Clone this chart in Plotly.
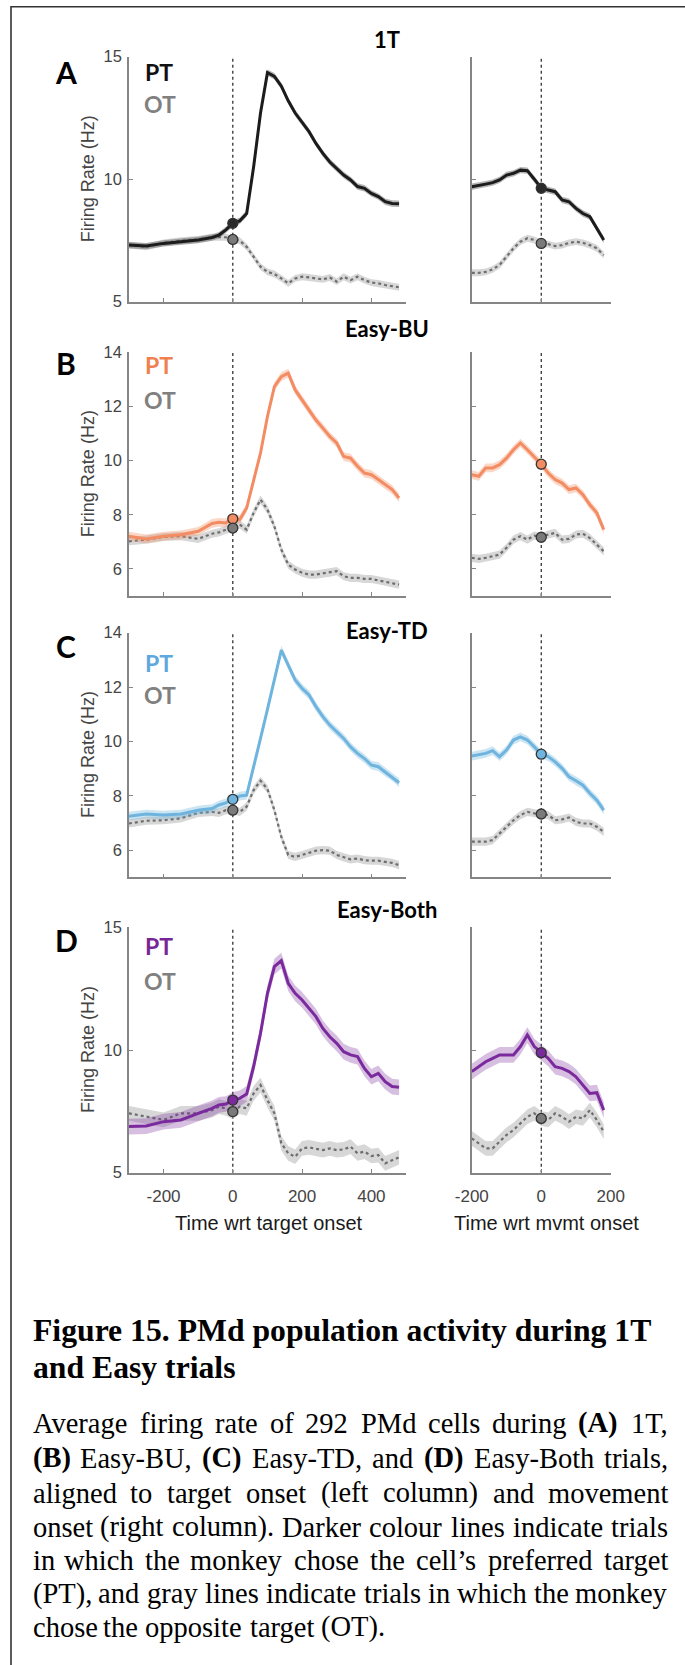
import plotly.graph_objects as go

# ---------------- data ----------------
t_left = [-300, -250, -200, -150, -100, -60, -40, -20, 0, 20, 40, 60, 80, 100, 120, 140, 160,
          180, 200, 220, 240, 260, 280, 300, 320, 340, 360, 380, 400, 420, 440, 460, 480]
t_right = [-200, -180, -160, -140, -120, -100, -80, -60, -40, -20, 0, 20, 40, 60, 80, 100,
           120, 140, 160, 180]

A_pt_left = [7.31, 7.27, 7.38, 7.45, 7.52, 7.62, 7.72, 7.93, 8.2, 8.3, 8.6, 10.5, 12.7, 14.35, 14.2,
             13.8, 13.2, 12.7, 12.3, 11.94, 11.46, 11.05, 10.7, 10.44, 10.17, 9.97, 9.7, 9.63, 9.42,
             9.29, 9.08, 9.01, 9.0]
A_ot_left = [7.31, 7.24, 7.4, 7.49, 7.54, 7.63, 7.63, 7.63, 7.54, 7.49, 7.24, 6.84, 6.43, 6.22, 6.13,
             5.95, 5.75, 5.95, 6.02, 5.99, 5.95, 5.91, 5.99, 5.82, 6.02, 5.88, 6.02, 5.88, 5.78, 5.75,
             5.68, 5.64, 5.59]
A_pt_right = [9.69, 9.76, 9.8, 9.86, 9.97, 10.17, 10.24, 10.37, 10.35, 10.0, 9.63, 9.56, 9.49, 9.15,
              9.08, 8.81, 8.6, 8.47, 8.0, 7.52]
A_ot_right = [6.18, 6.18, 6.22, 6.32, 6.5, 6.84, 7.18, 7.45, 7.59, 7.52, 7.38, 7.35, 7.27, 7.31, 7.4,
              7.45, 7.4, 7.31, 7.18, 6.9]

B_pt_left = [7.21, 7.11, 7.21, 7.26, 7.39, 7.68, 7.72, 7.7, 7.85, 7.82, 8.25, 9.3, 10.28, 11.63, 12.73,
             13.1, 13.23, 12.61, 12.24, 11.87, 11.5, 11.2, 10.89, 10.65, 10.15, 10.09, 9.79, 9.54, 9.48,
             9.3, 9.11, 8.93, 8.62]
B_ot_left = [7.02, 7.08, 7.18, 7.21, 7.11, 7.3, 7.35, 7.45, 7.51, 7.64, 7.45, 8.07, 8.56, 8.19, 7.57,
             6.71, 6.16, 5.98, 5.86, 5.79, 5.79, 5.83, 5.86, 5.92, 5.73, 5.67, 5.67, 5.63, 5.63, 5.58,
             5.54, 5.48, 5.42]
B_pt_right = [9.48, 9.42, 9.73, 9.73, 9.85, 10.09, 10.4, 10.65, 10.4, 10.15, 9.87, 9.54, 9.3, 9.17,
              8.93, 8.99, 8.74, 8.37, 8.07, 7.45]
B_ot_right = [6.41, 6.37, 6.41, 6.47, 6.53, 6.78, 7.08, 7.21, 7.08, 7.23, 7.17, 7.27, 7.33, 7.08, 7.11,
              7.27, 7.3, 7.14, 6.9, 6.65]

C_pt_left = [7.25, 7.33, 7.29, 7.33, 7.47, 7.53, 7.66, 7.74, 7.87, 7.99, 8.02, 9.03, 10.11, 11.18,
             12.26, 13.36, 12.81, 12.26, 11.95, 11.71, 11.28, 10.91, 10.6, 10.36, 10.11, 9.8, 9.56,
             9.37, 9.13, 9.07, 8.88, 8.7, 8.48]
C_ot_left = [6.98, 7.08, 7.1, 7.17, 7.37, 7.41, 7.37, 7.47, 7.47, 7.41, 7.6, 8.21, 8.55, 8.25, 7.47,
             6.49, 5.82, 5.75, 5.82, 5.9, 5.98, 6.0, 5.98, 5.82, 5.73, 5.66, 5.69, 5.63, 5.61, 5.61,
             5.57, 5.53, 5.45]
C_pt_right = [9.46, 9.5, 9.56, 9.66, 9.44, 9.68, 10.05, 10.17, 10.05, 9.8, 9.53, 9.44, 9.25, 9.01,
              8.7, 8.55, 8.39, 8.09, 7.84, 7.47]
C_ot_right = [6.31, 6.31, 6.31, 6.37, 6.61, 6.86, 7.1, 7.29, 7.41, 7.35, 7.33, 7.29, 7.1, 7.13, 7.2,
              7.04, 6.98, 6.98, 6.86, 6.67]

D_pt_left = [6.88, 6.9, 7.08, 7.15, 7.42, 7.62, 7.76, 7.8, 7.96, 8.03, 8.21, 9.32, 10.68, 12.31, 13.4,
             13.64, 12.72, 12.31, 12.04, 11.7, 11.36, 10.88, 10.54, 10.27, 9.93, 9.8, 9.73, 9.25,
             8.91, 9.05, 8.71, 8.51, 8.48]
D_ot_left = [7.42, 7.28, 7.15, 7.42, 7.42, 7.55, 7.69, 7.62, 7.49, 7.69, 7.62, 8.23, 8.57, 7.96, 7.42,
             6.2, 5.79, 5.65, 5.99, 6.03, 5.99, 5.92, 5.99, 5.92, 5.95, 6.06, 5.79, 5.86, 5.68, 5.72,
             5.38, 5.52, 5.63]
D_pt_right = [9.12, 9.32, 9.52, 9.66, 9.8, 9.8, 9.8, 10.14, 10.61, 10.14, 9.89, 9.66, 9.32, 9.25,
              9.12, 8.91, 8.57, 8.23, 8.26, 7.55]
D_ot_right = [6.4, 6.2, 5.99, 5.99, 6.26, 6.54, 6.74, 7.01, 7.28, 7.42, 7.21, 7.15, 7.42, 7.28, 7.08,
              7.28, 7.21, 7.55, 7.15, 6.67]

# half-width of shaded error bands (Hz) per panel: [PT, OT]
sem_A = [0.13, 0.14]
sem_B = [0.16, 0.15]
sem_C = [0.16, 0.15]
sem_D = [0.32, 0.30]

panel_letters = ["A", "B", "C", "D"]
panel_titles = ["1T", "Easy-BU", "Easy-TD", "Easy-Both"]
y_ranges = [[5, 15], [5, 14], [5, 14], [5, 15]]
y_ticks = [[5, 10, 15], [6, 8, 10, 12, 14], [6, 8, 10, 12, 14], [5, 10, 15]]
x_ticks_left = [-200, 0, 200, 400]
x_ticks_right = [-200, 0, 200]
x_ticklabels_left = ["-200", "0", "200", "400"]
x_ticklabels_right = ["-200", "0", "200"]
x_titles = ["Time wrt target onset", "Time wrt mvmt onset"]
y_title = "Firing Rate (Hz)"

caption_title = ["Figure 15. PMd population activity during 1T", "and Easy trials"]
caption_lines = [
    "Average firing rate of 292 PMd cells during **(A)** 1T,",
    "**(B)** Easy-BU, **(C)** Easy-TD, and **(D)** Easy-Both trials,",
    "aligned to target onset (left column) and movement",
    "onset (right column). Darker colour lines indicate trials",
    "in which the monkey chose the cell\u2019s preferred target",
    "(PT), and gray lines indicate trials in which the monkey",
    "chose the opposite target (OT).",
]

# ---------------- styling ----------------
W, H = 685, 1665
def px(x): return x / W
def py(y): return 1 - y / H

pt_line = ["#1c1c1c", "rgb(243,140,98)", "rgb(110,180,222)", "rgb(122,42,156)"]
pt_band = ["rgba(90,90,90,0.45)", "rgba(243,140,98,0.35)", "rgba(110,180,222,0.35)",
           "rgba(122,42,156,0.30)"]
pt_text = ["#111111", "rgb(240,128,80)", "rgb(95,168,222)", "rgb(120,38,150)"]
pt_marker = ["#2a2a2a", "rgb(243,140,98)", "rgb(110,180,222)", "rgb(122,42,156)"]
ot_line = "#6e6e6e"
ot_band = "rgba(175,175,175,0.5)"
ot_text = "#808080"
axis_col = "#858585"

# pixel geometry
x_left_dom = [px(128.9), px(406.0)]
x_right_dom = [px(471.8), px(610.7)]
panel_px = [(56.7, 301.7), (352.3, 596.0), (632.7, 877.3), (927.3, 1172.7)]
title_y = [39.3, 328.3, 630.7, 909.3]
letter_y = [71.7, 363.3, 645.7, 940.0]
pt_y = [71.5, 365.3, 663.3, 946.0]
ot_y = [104.0, 399.7, 695.3, 980.5]

series = [
    (A_pt_left, A_ot_left, A_pt_right, A_ot_right, sem_A),
    (B_pt_left, B_ot_left, B_pt_right, B_ot_right, sem_B),
    (C_pt_left, C_ot_left, C_pt_right, C_ot_right, sem_C),
    (D_pt_left, D_ot_left, D_pt_right, D_ot_right, sem_D),
]

fig = go.Figure()
layout = {}
shapes = []
annotations = []

def nm(n):
    return "" if n == 1 else str(n)

def band(t, v, s, color, xa, ya):
    xs = list(t) + list(t)[::-1]
    ys = [a + s for a in v] + [a - s for a in v][::-1]
    fig.add_trace(go.Scatter(x=xs, y=ys, fill="toself", fillcolor=color, mode="lines",
                             line=dict(width=0), hoverinfo="skip", showlegend=False,
                             xaxis=xa, yaxis=ya))

for i in range(4):
    pt_l, ot_l, pt_r, ot_r, sem = series[i]
    top, bot = panel_px[i]
    ydom = [py(bot), py(top)]
    for side in range(2):
        n = 2 * i + 1 + side
        xa, ya = "x" + nm(n), "y" + nm(n)
        t = t_left if side == 0 else t_right
        pt = pt_l if side == 0 else pt_r
        ot = ot_l if side == 0 else ot_r
        # OT
        band(t, ot, sem[1], ot_band, xa, ya)
        fig.add_trace(go.Scatter(x=t, y=ot, mode="lines", line=dict(color=ot_line, width=2.2, dash="dot"),
                                 showlegend=False, xaxis=xa, yaxis=ya))
        # PT
        band(t, pt, sem[0], pt_band[i], xa, ya)
        fig.add_trace(go.Scatter(x=t, y=pt, mode="lines", line=dict(color=pt_line[i], width=3),
                                 showlegend=False, xaxis=xa, yaxis=ya))
        # markers at alignment time
        k = t.index(0)
        fig.add_trace(go.Scatter(x=[0], y=[pt[k]], mode="markers",
                                 marker=dict(size=10, color=pt_marker[i], line=dict(color="#333", width=1.3)),
                                 showlegend=False, xaxis=xa, yaxis=ya))
        fig.add_trace(go.Scatter(x=[0], y=[ot[k]], mode="markers",
                                 marker=dict(size=10, color="#7a7a7a", line=dict(color="#333", width=1.3)),
                                 showlegend=False, xaxis=xa, yaxis=ya))
        # dotted alignment line
        shapes.append(dict(type="line", xref=xa, yref=ya + " domain", x0=0, x1=0, y0=0, y1=1,
                           line=dict(color="#222", width=1.2, dash="dot"), layer="below"))
        # axes
        layout["xaxis" + nm(n)] = dict(
            domain=x_left_dom if side == 0 else x_right_dom,
            range=[-300, 500] if side == 0 else [-200, 200],
            anchor=ya, showline=True, linecolor=axis_col, linewidth=1.5,
            ticks="inside", ticklen=4, tickcolor=axis_col, tickwidth=1.2,
            tickvals=x_ticks_left if side == 0 else x_ticks_right,
            ticktext=x_ticklabels_left if side == 0 else x_ticklabels_right,
            showticklabels=(i == 3), ticklabelstandoff=7, automargin=False,
            tickfont=dict(family="Liberation Sans, Arial, sans-serif", size=17, color="#444"),
            showgrid=False, zeroline=False, fixedrange=True)
        layout["yaxis" + nm(n)] = dict(
            domain=ydom, range=y_ranges[i], anchor=xa, showline=True, linecolor=axis_col,
            linewidth=1.5, ticks="inside", ticklen=4, tickcolor=axis_col, tickwidth=1.2,
            tickvals=y_ticks[i], showticklabels=(side == 0), ticklabelstandoff=2, automargin=False,
            tickfont=dict(family="Liberation Sans, Arial, sans-serif", size=16.5, color="#444"),
            showgrid=False, zeroline=False, fixedrange=True)

    # texts per panel
    annotations.append(dict(text=panel_titles[i], x=px(386.6), y=py(title_y[i]), xref="paper", yref="paper",
                            xanchor="center", yanchor="middle", showarrow=False,
                            font=dict(family="Lato, sans-serif", size=22, color="#000", weight="bold")))
    annotations.append(dict(text=panel_letters[i], x=px(66), y=py(letter_y[i]), xref="paper", yref="paper",
                            xanchor="center", yanchor="middle", showarrow=False,
                            font=dict(family="Lato, sans-serif", size=30, color="#000", weight="bold")))
    annotations.append(dict(text="PT", x=px(159), y=py(pt_y[i]), xref="paper", yref="paper",
                            xanchor="center", yanchor="middle", showarrow=False,
                            font=dict(family="Lato, sans-serif", size=23, color=pt_text[i], weight="bold")))
    annotations.append(dict(text="OT", x=px(160), y=py(ot_y[i]), xref="paper", yref="paper",
                            xanchor="center", yanchor="middle", showarrow=False,
                            font=dict(family="Lato, sans-serif", size=23, color=ot_text, weight="bold")))
    annotations.append(dict(text=y_title, x=px(88.0), y=py((top + bot) / 2), xref="paper", yref="paper",
                            xanchor="center", yanchor="middle", showarrow=False, textangle=-90,
                            font=dict(family="Liberation Sans, Arial, sans-serif", size=18, color="#444")))

annotations.append(dict(text=x_titles[0], x=px(268.7), y=py(1223.3), xref="paper", yref="paper",
                        xanchor="center", yanchor="middle", showarrow=False,
                        font=dict(family="Liberation Sans, Arial, sans-serif", size=20, color="#1a1a1a")))
annotations.append(dict(text=x_titles[1], x=px(546), y=py(1223.3), xref="paper", yref="paper",
                        xanchor="center", yanchor="middle", showarrow=False,
                        font=dict(family="Liberation Sans, Arial, sans-serif", size=20, color="#1a1a1a")))

# ---------------- caption ----------------
TR = {" ": 250, "(": 333, ")": 333, ",": 250, "-": 333, ".": 250, "\u2019": 333, "'": 180}
for c in "0123456789":
    TR[c] = 500
TR.update(dict(zip("ABCDEFGHIJKLMNOPQRSTUVWXYZ",
                   [722, 667, 667, 722, 611, 556, 722, 722, 333, 389, 722, 611, 889, 722, 722, 556, 722,
                    667, 556, 611, 722, 722, 944, 722, 722, 611])))
TR.update(dict(zip("abcdefghijklmnopqrstuvwxyz",
                   [444, 500, 444, 500, 444, 333, 500, 500, 278, 278, 500, 278, 778, 500, 500, 500, 500,
                    333, 389, 278, 500, 500, 722, 500, 500, 444])))
TB = dict(TR)
TB.update({"C": 722, "T": 667, "(": 333, ")": 333})

def wwidth(word, bold, size):
    tab = TB if bold else TR
    return sum(tab.get(c, 500) for c in word) * size / 1000.0

cap_font = "Liberation Serif, Times New Roman, serif"
for j, line in enumerate(caption_title):
    annotations.append(dict(text="<b>" + line + "</b>", x=px(30.5), y=py([1330, 1367][j]), xref="paper",
                            yref="paper", xanchor="left", yanchor="middle", showarrow=False,
                            font=dict(family=cap_font, size=31.7, color="#000")))

body_size = 28.5
left_x, right_x = 31.5, 668.5
line_y = [1423.3, 1458.3, 1493.3, 1527.0, 1560.5, 1593.5, 1627.0]
for j, line in enumerate(caption_lines):
    words = []
    for w in line.split(" "):
        if w.startswith("**") and w.endswith("**"):
            words.append((w[2:-2], True))
        else:
            words.append((w, False))
    widths = [wwidth(w, b, body_size) for w, b in words]
    justify = j < len(caption_lines) - 1
    if justify:
        gap = (right_x - left_x - sum(widths)) / (len(words) - 1)
    else:
        gap = 250 * body_size / 1000.0
    x = left_x
    for k, ((w, b), wd) in enumerate(zip(words, widths)):
        txt = "<b>" + w + "</b>" if b else w
        if k == 0:
            xa, anc = x, "left"
        elif justify and k == len(words) - 1:
            xa, anc = right_x, "right"
        else:
            xa, anc = x + wd / 2, "center"
        annotations.append(dict(text=txt, x=px(xa), y=py(line_y[j]), xref="paper", yref="paper",
                                xanchor=anc, yanchor="middle", showarrow=False, borderpad=0,
                                font=dict(family=cap_font, size=body_size, color="#000")))
        x += wd + gap

# outer frame (right and bottom edges fall outside the visible page, as in the reference)
shapes.append(dict(type="rect", xref="paper", yref="paper", x0=px(11), x1=px(690), y0=py(1672), y1=py(6.7),
                   line=dict(color="#333", width=1.6), layer="above"))

fig.update_layout(width=W, height=H, margin=dict(l=0, r=0, t=0, b=0, pad=0, autoexpand=False),
                  plot_bgcolor="white", paper_bgcolor="white", showlegend=False, shapes=shapes,
                  annotations=annotations, font=dict(family="Liberation Sans, Arial, sans-serif"), **layout)
fig.write_html("out.html", config={"displayModeBar": False},
               post_script="document.body.style.margin='0px';")
